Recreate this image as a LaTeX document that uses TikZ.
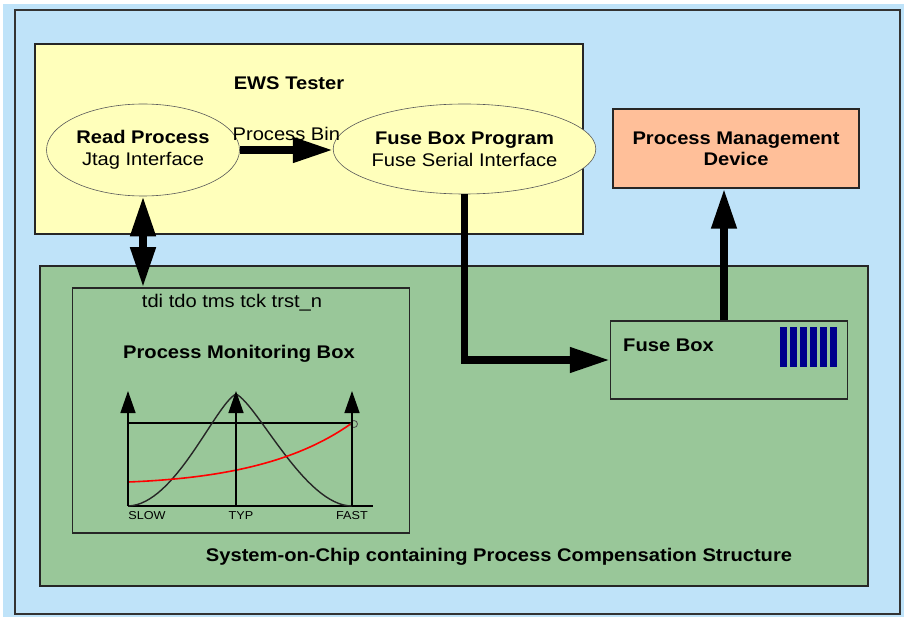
\documentclass[tikz,border=0pt]{standalone}
\usepackage{fontspec}
\setmainfont[FakeStretch=1.1]{Liberation Sans}
\usetikzlibrary{shapes.geometric,arrows.meta,positioning}
\definecolor{skyback}{HTML}{BFE3F9}
\definecolor{testeryellow}{HTML}{FFFFBB}
\definecolor{socgreen}{HTML}{99C799}
\definecolor{pmdsalmon}{HTML}{FFBF99}
\definecolor{fusenavy}{HTML}{00008C}
\tikzset{every node/.style={align=center}, >={Triangle[length=40pt,width=24pt]}, font=\fontsize{18.3}{22}\selectfont}
\tikzset{panel/.style 2 args={draw=black!85, line width=1.5pt, inner sep=0pt, minimum width=#1, minimum height=#2},
    stage/.style 2 args={ellipse, draw=black!65, line width=0.6pt, fill=testeryellow, inner sep=0pt, minimum width=#1, minimum height=#2},
    title/.style={font=\fontsize{18.3}{21}\selectfont\bfseries},
    ticklabel/.style={font=\fontsize{11.5}{13}\selectfont, inner sep=0pt},
    bigarrow/.style={line width=7.5pt},
    axisarrow/.style={line width=1.4pt, -{Triangle[length=22pt,width=15pt]}}}

\begin{document}
\begin{tikzpicture}[x=1pt,y=-1pt]
            \useasboundingbox (0,0) rectangle (907,617);
            \fill[white] (0,0) rectangle (907,617);
            \fill[skyback] (3,4) rectangle (904,617);
            \draw[black!80, line width=1.6pt] (15,10) rectangle (900,614);
            \node[panel={548}{190}, fill=testeryellow] (ews) at (309,139) {};
            \node[panel={246}{79}, fill=pmdsalmon, title] (pmd) at (736,148.5) {Process Management\\Device};
            \node[panel={828}{320}, fill=socgreen] (soc) at (454,426) {};
            \node[panel={337}{245}, fill=socgreen] (pmb) at (241,410.5) {};
            \node[panel={237}{78}, fill=socgreen] (fb) at (729,360) {};
            \node[stage={193}{92}] (rp) at (143,150) {\textbf{Read Process}\\Jtag Interface};
            \node[stage={217}{90}] (fbp) at (464.5,149) {\textbf{Fuse Box Program}\\Fuse Serial Interface};
            \node[title] (ewsname) at (289,83) {EWS Tester};
            \node (jtagpins) at (232,303) {tdi tdo tms tck trst\_n};
            \node[title] (pmbname) at (239,354) {Process Monitoring Box};
            \node[title, anchor=west, inner sep=0pt] (fbname) at (623,345) {Fuse Box};
            \node[title] (socname) at (499,557) {System-on-Chip containing Process Compensation Structure};
            \foreach \i in {0,...,5}
                \fill[fusenavy] (780+10*\i,327) rectangle ++(7,40);
            \path[->, bigarrow] (rp.east) edge node[above=2pt] {Process Bin} (rp.east -| fbp.west);
            \path[<->, bigarrow] (rp.south) edge (rp.south |- pmb.north);
            \draw[->, bigarrow] (fbp.south) |- (fb.west);
            \draw[->, bigarrow] ([xshift=-5pt]fb.north) -- ([xshift=-5pt]fb.north |- pmd.south);
            \draw[line width=1.4pt] (128,506) -- (373,506);
            \draw[line width=1.4pt] (128,423) -- (352,423);
            \draw[line width=1.4pt, black!85] (128,506) .. controls (175,505) and (215,405) .. (236,394)
                .. controls (258,405) and (305,506) .. (352,506);
            \draw[red, line width=1.6pt] (128,482) .. controls (230,478) and (300,460) .. (352,423);
            \draw[black!70, line width=0.8pt] (354,424) circle (3.5);
            \foreach \gx in {128,236,352}
                \draw[axisarrow] (\gx,506) -- (\gx,391);
            \node[ticklabel] (slow) at (147,516) {SLOW};
            \node[ticklabel] (typ) at (241,516) {TYP};
            \node[ticklabel] (fast) at (352,516) {FAST};
        \end{tikzpicture}
\end{document}
